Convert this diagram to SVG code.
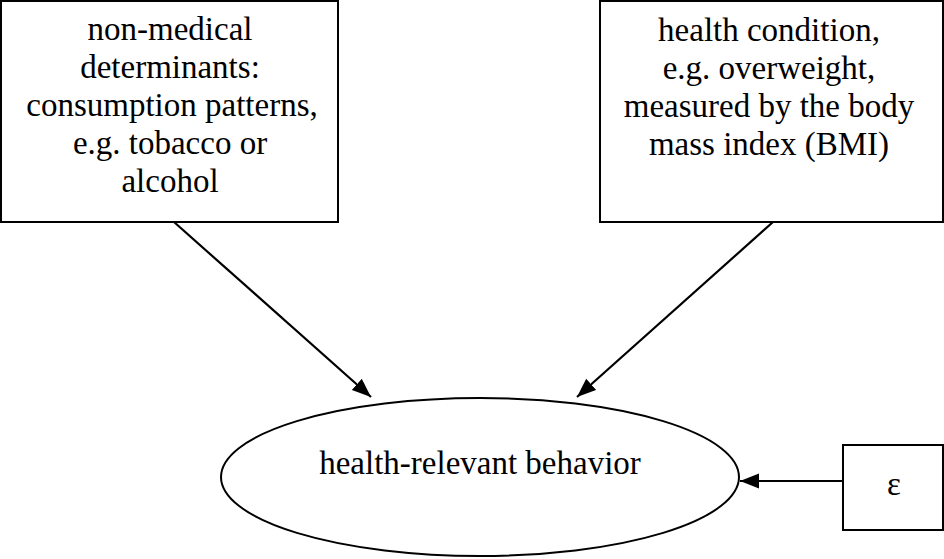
<svg xmlns="http://www.w3.org/2000/svg" width="944" height="559" viewBox="0 0 944 559">
<style>
.box{fill:#fff;stroke:#000;stroke-width:2}
.t{font-size:33px;fill:#000;text-anchor:middle}
.c{stroke:#000;stroke-width:2.2;fill:none;marker-end:url(#ah)}
</style>
<defs>
<marker id="ah" markerUnits="userSpaceOnUse" markerWidth="20" markerHeight="16" refX="19" refY="7.5" orient="auto">
<path d="M0,0 L19,7.5 L0,15 z" fill="#000"/>
</marker>
</defs>
<g font-family="'Liberation Serif', Tinos, 'Times New Roman', Times, 'Nimbus Roman', 'DejaVu Serif', serif">
<g id="n_nonmedical">
<rect class="box" x="1" y="1" width="337" height="221"/>
<text class="t" x="170" y="40">non-medical</text>
<text class="t" x="170" y="78">determinants:</text>
<text class="t" x="172" y="116">consumption patterns,</text>
<text class="t" x="170" y="154">e.g. tobacco or</text>
<text class="t" x="170" y="192">alcohol</text>
</g>
<g id="n_health">
<rect class="box" x="600" y="1" width="343" height="221"/>
<text class="t" x="769" y="41">health condition,</text>
<text class="t" x="769" y="79">e.g. overweight,</text>
<text class="t" x="769" y="117">measured by the body</text>
<text class="t" x="769" y="155">mass index (BMI)</text>
</g>
<g id="n_behavior">
<ellipse class="box" cx="480" cy="477" rx="259" ry="79"/>
<text class="t" x="480" y="474">health-relevant behavior</text>
</g>
<g id="n_eps">
<rect class="box" x="843" y="445" width="100" height="85"/>
<text class="t" x="894" y="495">ε</text>
</g>
</g>
<g id="connectors">
<line class="c" x1="174" y1="222" x2="371" y2="397"/>
<line class="c" x1="773" y1="222" x2="577" y2="397"/>
<line class="c" x1="843" y1="481" x2="740" y2="481"/>
</g>
</svg>
